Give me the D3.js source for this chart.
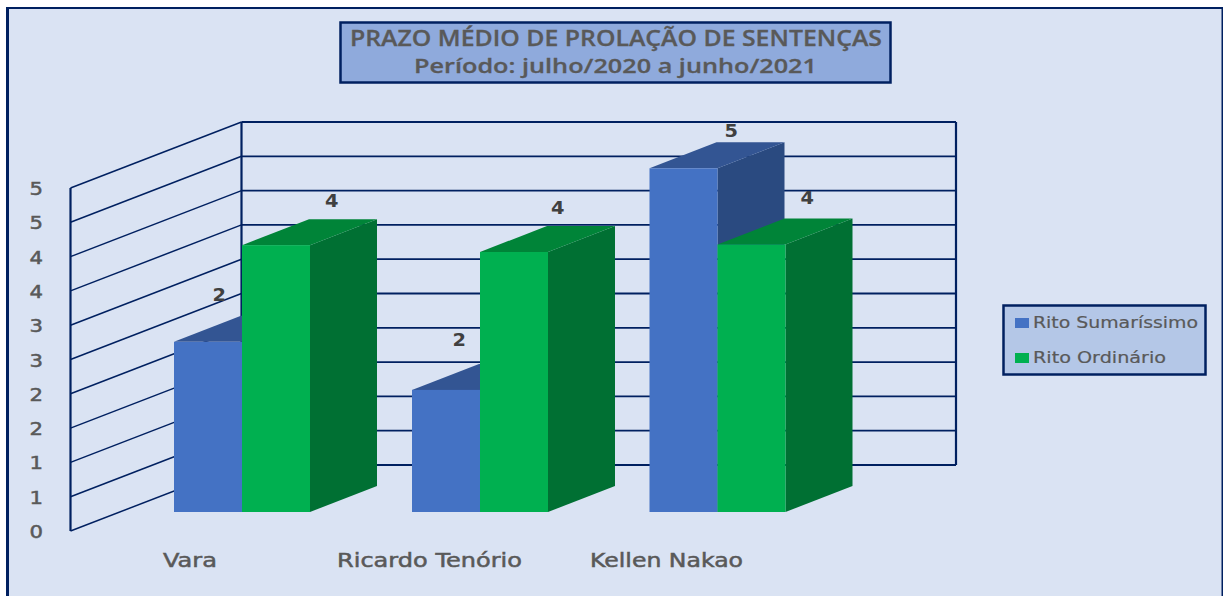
<!DOCTYPE html>
<html><head><meta charset="utf-8">
<script src="https://cdn.jsdelivr.net/npm/d3@7/dist/d3.min.js"></script>
<style>html,body{margin:0;padding:0;background:#fff}svg{display:block}</style>
</head><body><svg id="c" width="1223" height="596"></svg>
<script>
const categories = ["Vara", "Ricardo Tenório", "Kellen Nakao"];
const seriesNames = ["Rito Sumaríssimo", "Rito Ordinário"];
const sumarissimo = [2.48, 1.78, 5.01];
const ordinario = [3.89, 3.79, 3.9];
const dataLabels = [["2", "4"], ["2", "4"], ["5", "4"]];
const tickValues = [0, 0.5, 1, 1.5, 2, 2.5, 3, 3.5, 4, 4.5, 5];
const tickLabels = ["0", "1", "1", "2", "2", "3", "3", "4", "4", "5", "5"];
const titleLines = ["PRAZO MÉDIO DE PROLAÇÃO DE SENTENÇAS", "Período: julho/2020 a junho/2021"];

const navy = "#002060", textGrey = "#595959";
const svg = d3.select("#c");
const W = 1223, H = 596;

svg.append("rect").attr("width", W).attr("height", H).attr("fill", "#fff");
svg.append("rect").attr("x", 6).attr("y", 7).attr("width", W - 6).attr("height", H - 7).attr("fill", "#dae3f3");
svg.append("rect").attr("x", 6).attr("y", 7).attr("width", 3).attr("height", H - 7).attr("fill", navy);
svg.append("rect").attr("x", 6).attr("y", 7).attr("width", W - 6).attr("height", 2).attr("fill", navy);
svg.append("rect").attr("x", W - 1.5).attr("y", 7).attr("width", 1.5).attr("height", H - 7).attr("fill", navy);

// scales
const yFront = d3.scaleLinear().domain([0, 5]).range([531, 188]);
const yBack = d3.scaleLinear().domain([0, 5]).range([465, 122]);
const xWall = d3.scaleLinear().domain([0, 1]).range([70.5, 241.5]);
const xBack = 956;
const barBase = 512, barDX = 67, barDY = 26;
const xBand = d3.scaleOrdinal().domain(categories).range([174, 412, 649.5]);
const barW = 68;

// walls
const g = svg.append("g").attr("fill", "none").attr("stroke", navy);
tickValues.forEach(v => {
  g.append("line").attr("x1", xWall(0)).attr("y1", yFront(v)).attr("x2", xWall(1)).attr("y2", yBack(v)).attr("stroke-width", 1.5);
  g.append("line").attr("x1", xWall(1)).attr("y1", yBack(v)).attr("x2", xBack).attr("y2", yBack(v)).attr("stroke-width", 1.8);
});
g.append("line").attr("x1", xWall(0)).attr("x2", xWall(0)).attr("y1", yFront(5)).attr("y2", yFront(0)).attr("stroke-width", 2.2);
g.append("line").attr("x1", xWall(1)).attr("x2", xWall(1)).attr("y1", yBack(5)).attr("y2", yBack(0)).attr("stroke-width", 2.2);
g.append("line").attr("x1", xBack).attr("x2", xBack).attr("y1", yBack(5)).attr("y2", yBack(0)).attr("stroke-width", 2.2);

// text helper: fits a label to a measured width, with a slight stroke for weight
function label(sel, width, weight) {
  return sel.attr("textLength", width).attr("lengthAdjust", "spacingAndGlyphs")
    .attr("stroke", sel.attr("fill")).attr("stroke-width", weight);
}

// tick labels
tickValues.forEach((v, i) => {
  label(svg.append("text").attr("x", 29.5).attr("y", yFront(v) + 7)
    .attr("font-family", "DejaVu Sans").attr("font-size", 18).attr("fill", textGrey)
    .text(tickLabels[i]), 13.5, 0.5);
});

// bars
const barH = v => yFront(v) - yFront(0);
function bar(x, v, front, top, side) {
  const yt = barBase + barH(v);
  const pts = a => a.map(p => p.join(",")).join(" ");
  const b = svg.append("g");
  b.append("polygon").attr("fill", side).attr("points", pts([[x + barW, yt], [x + barW + barDX, yt - barDY], [x + barW + barDX, barBase - barDY], [x + barW, barBase]]));
  b.append("polygon").attr("fill", top).attr("points", pts([[x, yt], [x + barW, yt], [x + barW + barDX, yt - barDY], [x + barDX, yt - barDY]]));
  b.append("rect").attr("fill", front).attr("x", x).attr("y", yt).attr("width", barW).attr("height", barBase - yt);
}
categories.forEach((c, i) => {
  const x = xBand(c);
  bar(x, sumarissimo[i], "#4472c4", "#335593", "#2a4a80");
  bar(x + barW, ordinario[i], "#00b050", "#008438", "#007033");
});

// data labels
const labelBlue = [[212.5, 301], [452.5, 346], [724.5, 137]];
const labelGreen = [[325, 207], [551, 214], [800.5, 204]];
categories.forEach((c, i) => {
  [labelBlue[i], labelGreen[i]].forEach((p, j) => {
    label(svg.append("text").attr("x", p[0]).attr("y", p[1])
      .attr("font-family", "DejaVu Sans").attr("font-weight", "bold").attr("font-size", 17).attr("fill", "#404040")
      .text(dataLabels[i][j]), 13.5, 0);
  });
});

// category labels
const catLeft = [163, 337, 590];
const catWidth = [54, 185, 153];
categories.forEach((c, i) => {
  label(svg.append("text").attr("x", catLeft[i]).attr("y", 567)
    .attr("font-family", "DejaVu Sans").attr("font-size", 19).attr("fill", textGrey)
    .text(c), catWidth[i], 0.5);
});

// title
svg.append("rect").attr("x", 340.5).attr("y", 22.5).attr("width", 550).attr("height", 60)
  .attr("fill", "#8faadc").attr("stroke", navy).attr("stroke-width", 2.5);
const titleLeft = [350, 414], titleWidth = [532, 403], titleBase = [46, 73], titleSize = [22, 20];
titleLines.forEach((t, i) => {
  label(svg.append("text").attr("x", titleLeft[i]).attr("y", titleBase[i])
    .attr("font-family", "Open Sans").attr("font-weight", 600).attr("font-size", titleSize[i])
    .attr("fill", textGrey).text(t), titleWidth[i], 0.3);
});

// legend
svg.append("rect").attr("x", 1003.5).attr("y", 305.5).attr("width", 202).attr("height", 69)
  .attr("fill", "#b4c7e7").attr("stroke", navy).attr("stroke-width", 2.5);
const legendColors = ["#4472c4", "#00b050"];
const legendBase = [328, 363], legendWidth = [165, 133];
seriesNames.forEach((s, i) => {
  svg.append("rect").attr("x", 1015).attr("y", legendBase[i] - 10).attr("width", 14).attr("height", 10).attr("fill", legendColors[i]);
  label(svg.append("text").attr("x", 1033).attr("y", legendBase[i])
    .attr("font-family", "DejaVu Sans").attr("font-size", 16).attr("fill", textGrey).text(s), legendWidth[i], 0.2);
});
</script></body></html>
